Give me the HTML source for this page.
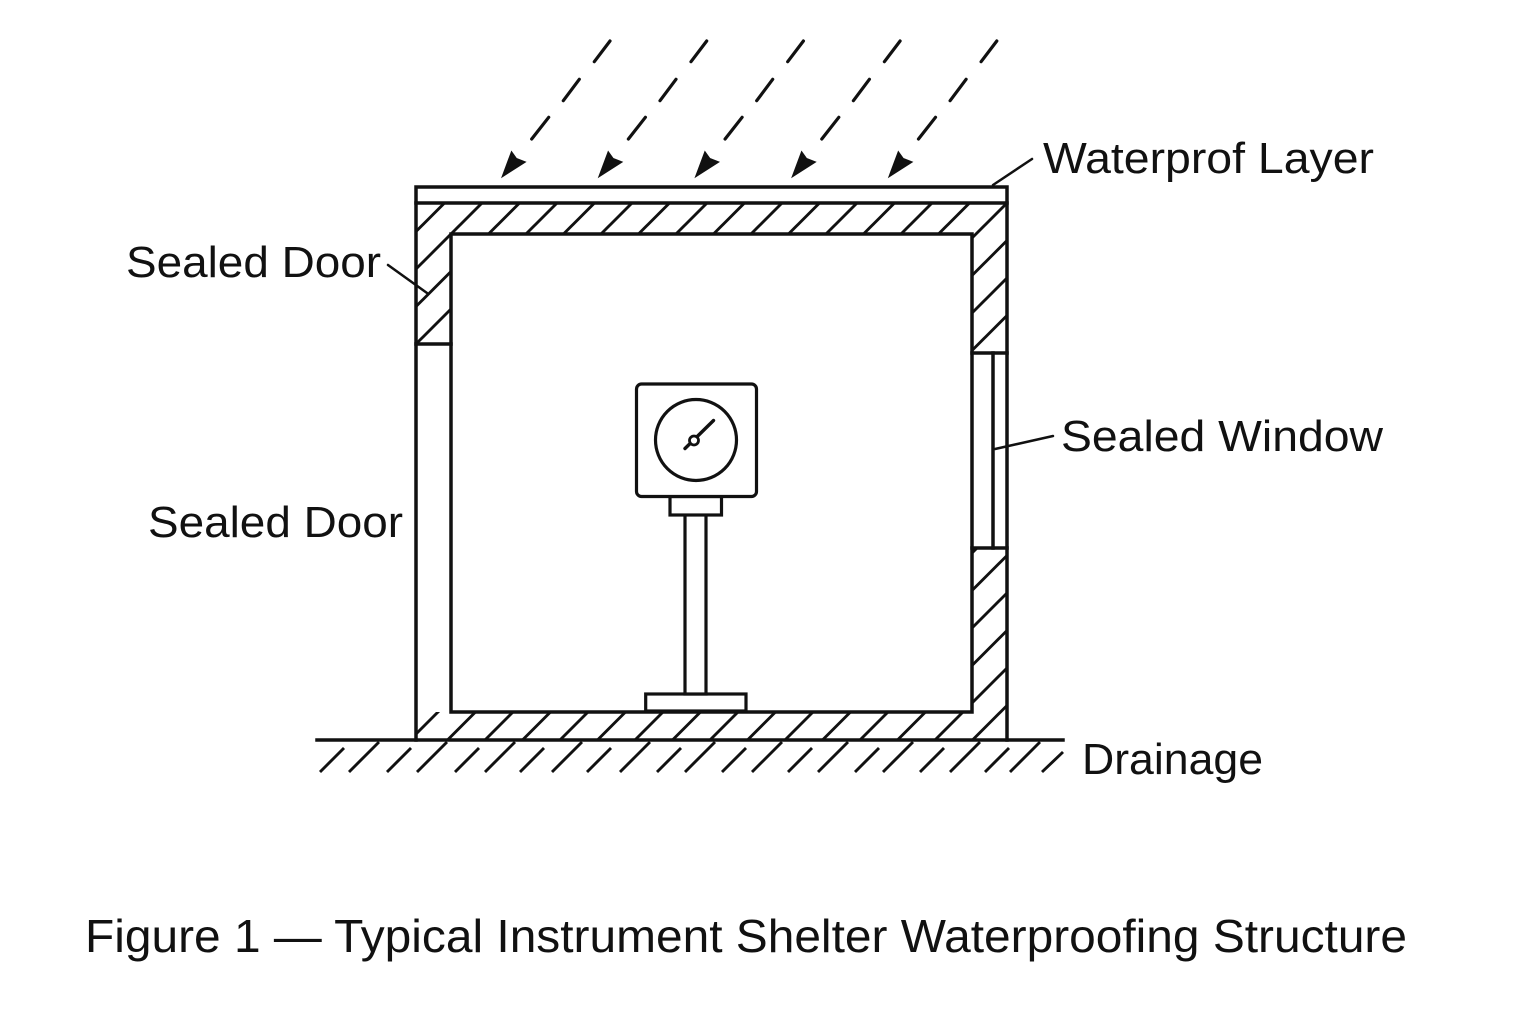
<!DOCTYPE html>
<html>
<head>
<meta charset="utf-8">
<style>
  html, body { margin: 0; padding: 0; background: #ffffff; }
  body { width: 1536px; height: 1024px; overflow: hidden; }
  svg { display: block; }
  text { font-family: "Liberation Sans", "DejaVu Sans", sans-serif; fill: #111; }
</style>
</head>
<body>
<svg width="1536" height="1024" viewBox="0 0 1536 1024" xmlns="http://www.w3.org/2000/svg">
  <defs>
    <pattern id="hatchA" patternUnits="userSpaceOnUse" x="10" y="0" width="37.5" height="37.5">
      <line x1="-2" y1="39.5" x2="39.5" y2="-2" stroke="#111" stroke-width="2.9"/>
      <line x1="-2" y1="2" x2="2" y2="-2" stroke="#111" stroke-width="2.9"/>
      <line x1="35.5" y1="39.5" x2="39.5" y2="35.5" stroke="#111" stroke-width="2.9"/>
    </pattern>
    <pattern id="hatchB" patternUnits="userSpaceOnUse" x="25" y="0" width="37.5" height="37.5">
      <line x1="-2" y1="39.5" x2="39.5" y2="-2" stroke="#111" stroke-width="2.9"/>
      <line x1="-2" y1="2" x2="2" y2="-2" stroke="#111" stroke-width="2.9"/>
      <line x1="35.5" y1="39.5" x2="39.5" y2="35.5" stroke="#111" stroke-width="2.9"/>
    </pattern>
  </defs>

  <rect x="0" y="0" width="1536" height="1024" fill="#fff"/>

  <!-- Hatched wall regions -->
  <rect x="416" y="203" width="591" height="31" fill="url(#hatchA)"/>
  <rect x="416" y="234" width="35" height="110" fill="url(#hatchA)"/>
  <rect x="972" y="234" width="35" height="119" fill="url(#hatchA)"/>
  <rect x="972" y="548" width="35" height="164" fill="url(#hatchB)"/>
  <rect x="416" y="712" width="591" height="28" fill="url(#hatchB)"/>

  <g stroke="#111" stroke-width="3.5" fill="none" stroke-linecap="square">
    <!-- Waterproof layer -->
    <rect x="416" y="187" width="591" height="16" fill="#fff"/>
    <!-- Outer walls -->
    <line x1="416" y1="203" x2="416" y2="740"/>
    <line x1="1007" y1="203" x2="1007" y2="740"/>
    <!-- Inner cavity -->
    <rect x="451" y="234" width="521" height="478" fill="#fff"/>
    <!-- Left door -->
    <line x1="416" y1="344" x2="451" y2="344"/>
    <!-- Right window -->
    <line x1="972" y1="353" x2="1007" y2="353"/>
    <line x1="972" y1="548" x2="1007" y2="548"/>
    <line x1="993" y1="353" x2="993" y2="548"/>
    <!-- Ground line -->
    <line x1="317" y1="740" x2="1063" y2="740"/>
  </g>

  <!-- Ground hatching -->
  <g stroke="#111" stroke-width="2.9" stroke-linecap="butt">
    <line x1="344" y1="748" x2="320" y2="772"/>
    <line x1="379" y1="742" x2="349" y2="772"/>
    <line x1="411" y1="748" x2="387" y2="772"/>
    <line x1="447" y1="742" x2="417" y2="772"/>
    <line x1="479" y1="748" x2="455" y2="772"/>
    <line x1="515" y1="742" x2="485" y2="772"/>
    <line x1="544" y1="748" x2="520" y2="772"/>
    <line x1="582" y1="742" x2="552" y2="772"/>
    <line x1="611" y1="748" x2="587" y2="772"/>
    <line x1="650" y1="742" x2="620" y2="772"/>
    <line x1="681" y1="748" x2="657" y2="772"/>
    <line x1="715" y1="742" x2="685" y2="772"/>
    <line x1="746" y1="748" x2="722" y2="772"/>
    <line x1="782" y1="742" x2="752" y2="772"/>
    <line x1="812" y1="748" x2="788" y2="772"/>
    <line x1="848" y1="742" x2="818" y2="772"/>
    <line x1="879" y1="748" x2="855" y2="772"/>
    <line x1="913" y1="742" x2="883" y2="772"/>
    <line x1="944" y1="748" x2="920" y2="772"/>
    <line x1="980" y1="742" x2="950" y2="772"/>
    <line x1="1009" y1="748" x2="985" y2="772"/>
    <line x1="1040" y1="742" x2="1010" y2="772"/>
    <line x1="1063" y1="752" x2="1042" y2="772"/>
  </g>

  <!-- Rain arrows -->
  <g id="arrow1" stroke="#111" stroke-width="3.2" stroke-linecap="round">
    <line x1="610" y1="41" x2="594.3" y2="61.7"/>
    <line x1="579.3" y1="79.3" x2="563.3" y2="100.7"/>
    <line x1="548.7" y1="117.3" x2="531.7" y2="139"/>
    <polygon points="502,177 511.5,151.5 516.5,158.5 525.5,162" fill="#111" stroke="#111" stroke-width="1" stroke-linejoin="miter"/>
  </g>
  <use href="#arrow1" x="96.7" y="0"/>
  <use href="#arrow1" x="193.4" y="0"/>
  <use href="#arrow1" x="290.1" y="0"/>
  <use href="#arrow1" x="386.8" y="0"/>

  <!-- Gauge instrument -->
  <g stroke="#111" stroke-width="3.2" fill="#fff">
    <rect x="645.7" y="694" width="100.3" height="17" />
    <rect x="685" y="514" width="21" height="180" />
    <rect x="670" y="496.5" width="51.5" height="18.5" />
    <rect x="636.5" y="384" width="120" height="112.5" rx="5" ry="5"/>
    <circle cx="696" cy="440" r="40.5"/>
    <line x1="685" y1="448.5" x2="713.5" y2="420.5" stroke-width="3.4" stroke-linecap="round"/>
    <circle cx="694" cy="440.5" r="4.5" stroke-width="2.8"/>
  </g>

  <!-- Leader lines -->
  <g stroke="#111" stroke-width="2.5" stroke-linecap="round">
    <line x1="993" y1="185" x2="1032" y2="159"/>
    <line x1="388" y1="265" x2="427" y2="293"/>
    <line x1="995" y1="449" x2="1053" y2="436"/>
  </g>

  <!-- Labels -->
  <text x="1043" y="173" font-size="44" textLength="331" lengthAdjust="spacingAndGlyphs">Waterprof Layer</text>
  <text x="126" y="277" font-size="44" textLength="255" lengthAdjust="spacingAndGlyphs">Sealed Door</text>
  <text x="148" y="537" font-size="44" textLength="255" lengthAdjust="spacingAndGlyphs">Sealed Door</text>
  <text x="1061" y="451" font-size="44" textLength="322" lengthAdjust="spacingAndGlyphs">Sealed Window</text>
  <text x="1082" y="774" font-size="44" textLength="181" lengthAdjust="spacingAndGlyphs">Drainage</text>

  <!-- Caption -->
  <text x="85" y="952" font-size="46" textLength="1322" lengthAdjust="spacingAndGlyphs">Figure 1 — Typical Instrument Shelter Waterproofing Structure</text>
</svg>
</body>
</html>
